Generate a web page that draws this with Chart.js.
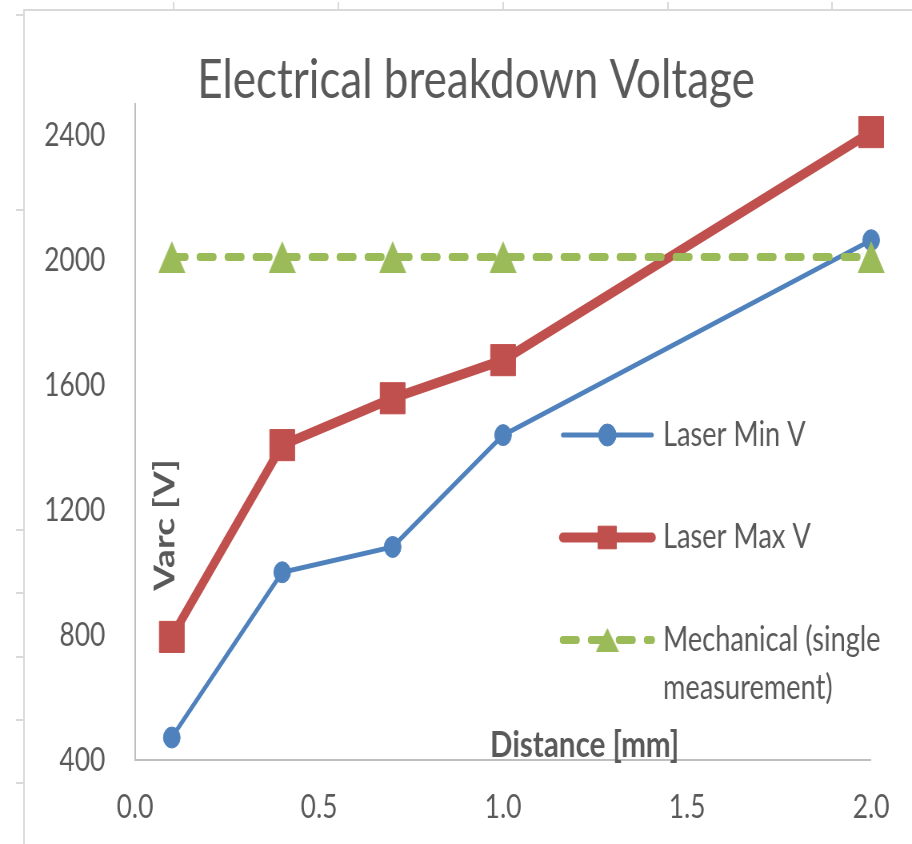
<!DOCTYPE html>
<html>
<head>
<meta charset="utf-8">
<script src="https://cdn.jsdelivr.net/npm/chart.js@4.4.1/dist/chart.umd.min.js"></script>
<style>
  html, body { margin: 0; padding: 0; background: #fff; overflow: hidden; }
  /* the reference picture is squeezed sideways, so draw wide and squeeze */
  #wrap { width: 1140px; height: 844px; transform: scaleX(0.8); transform-origin: 0 0; }
</style>
</head>
<body>
<div id="wrap"><canvas id="chart" width="1140" height="844"></canvas></div>
<script>
const distances = [0.1, 0.4, 0.7, 1.0, 2.0];
const laserMin = [472, 1001, 1082, 1440, 2064];
const laserMax = [794, 1408, 1558, 1680, 2410];
const mechanical = [2010, 2010, 2010, 2010, 2010];
const xTicks = [0.0, 0.5, 1.0, 1.5, 2.0];
const yTicks = [400, 800, 1200, 1600, 2000, 2400];
const seriesNames = ["Laser Min V", "Laser Max V", ["Mechanical (single", "measurement)"]];
const chartTitle = "Electrical breakdown Voltage";

const TEXT = "#595959";
const FONT = "Lato";
const GREEN = "#9BBB59";

function toPoints(ys) {
  return distances.map((x, i) => ({ x: x, y: ys[i] }));
}

// triangle marker centred on its box (the built-in one sits high)
function makeTriangle(w, h, color) {
  const c = document.createElement("canvas");
  c.width = w;
  c.height = h;
  const g = c.getContext("2d");
  g.fillStyle = color;
  g.beginPath();
  g.moveTo(w / 2, 0);
  g.lineTo(w, h);
  g.lineTo(0, h);
  g.closePath();
  g.fill();
  return c;
}
const triBig = makeTriangle(34, 32, GREEN);
const triSmall = makeTriangle(29, 24, GREEN);

// light frame + stray tick marks around the picture
const framePlugin = {
  id: "frame",
  beforeDraw(chart) {
    const ctx = chart.ctx;
    ctx.save();
    ctx.strokeStyle = "#d9d9d9";
    ctx.lineWidth = 2;
    ctx.beginPath();
    ctx.moveTo(30, 844);
    ctx.lineTo(30, 10);
    ctx.lineTo(1140, 10);
    for (const x of [217, 423, 629, 835, 1040]) {
      ctx.moveTo(x, 2);
      ctx.lineTo(x, 10);
    }
    for (const y of [15, 210, 530, 593, 657, 720, 783]) {
      ctx.moveTo(20, y);
      ctx.lineTo(30, y);
    }
    ctx.stroke();
    ctx.restore();
  },
};

// title is off-centre and axis titles sit inside the plot area in the original
const textPlugin = {
  id: "texts",
  afterDraw(chart) {
    const { ctx, chartArea } = chart;
    ctx.save();
    ctx.fillStyle = TEXT;
    ctx.textAlign = "center";
    ctx.textBaseline = "middle";
    ctx.font = `55px ${FONT}`;
    ctx.fillText(chartTitle, 595, 80);
    ctx.font = `bold 37px ${FONT}`;
    ctx.save();
    ctx.translate(chartArea.left + 37, chartArea.top + 421);
    ctx.rotate(-Math.PI / 2);
    ctx.fillText("Varc [V]", 0, 0);
    ctx.restore();
    ctx.textBaseline = "alphabetic";
    ctx.fillText("Distance [mm]", chartArea.left + 562, chartArea.bottom - 3);
    ctx.restore();
  },
};

// legend drawn inside the plot, line sample with marker
const insideLegend = {
  id: "insideLegend",
  afterDraw(chart) {
    const { ctx, chartArea } = chart;
    const x0 = chartArea.left + 535;
    const x1 = chartArea.left + 646;
    const xt = chartArea.left + 660;
    let y = chartArea.top + 331;
    chart.data.datasets.forEach((ds, i) => {
      ctx.save();
      ctx.strokeStyle = ds.borderColor;
      ctx.lineWidth = ds.borderWidth;
      ctx.lineCap = ds.borderCapStyle || "round";
      ctx.setLineDash(ds.borderDash || []);
      ctx.beginPath();
      ctx.moveTo(x0, y);
      ctx.lineTo(x1, y);
      ctx.stroke();
      ctx.setLineDash([]);
      ctx.fillStyle = ds.pointBackgroundColor;
      ctx.strokeStyle = ds.pointBorderColor;
      ctx.lineWidth = 1;
      Chart.helpers.drawPoint(ctx, {
        pointStyle: ds.legendStyle || ds.pointStyle,
        radius: ds.legendRadius,
        rotation: 0,
        borderWidth: 1,
      }, (x0 + x1) / 2, y);
      ctx.fillStyle = TEXT;
      ctx.font = `34px ${FONT}`;
      ctx.textAlign = "left";
      ctx.textBaseline = "middle";
      const lines = [].concat(seriesNames[i]);
      lines.forEach((t, k) => ctx.fillText(t, xt, y + k * 48));
      ctx.restore();
      y += 102.5;
    });
  },
};

new Chart(document.getElementById("chart"), {
  type: "line",
  data: {
    datasets: [
      {
        label: "Laser Min V",
        data: toPoints(laserMin),
        borderColor: "#4F81BD",
        borderWidth: 5,
        pointStyle: "circle",
        pointRadius: 10.5,
        pointBackgroundColor: "#4F81BD",
        pointBorderColor: "#4F81BD",
        pointBorderWidth: 1,
        legendRadius: 11,
        order: 3,
        clip: false,
      },
      {
        label: "Laser Max V",
        data: toPoints(laserMax),
        borderColor: "#C0504D",
        borderWidth: 10,
        borderJoinStyle: "round",
        pointStyle: "rect",
        pointRadius: 22,
        pointBackgroundColor: "#C0504D",
        pointBorderColor: "#C0504D",
        pointBorderWidth: 1,
        legendRadius: 16,
        order: 2,
        clip: false,
      },
      {
        label: "Mechanical (single measurement)",
        data: toPoints(mechanical),
        borderColor: GREEN,
        borderWidth: 8,
        borderDash: [17, 18],
        borderCapStyle: "round",
        pointStyle: triBig,
        legendStyle: triSmall,
        pointRadius: 20,
        pointBackgroundColor: GREEN,
        pointBorderColor: GREEN,
        pointBorderWidth: 1,
        legendRadius: 15,
        order: 1,
        clip: false,
      },
    ],
  },
  options: {
    responsive: false,
    devicePixelRatio: 1,
    animation: false,
    layout: { padding: { left: 0, right: 46.25, top: 104, bottom: 0 } },
    plugins: {
      legend: { display: false },
      tooltip: { enabled: false },
      title: { display: false },
    },
    scales: {
      x: {
        type: "linear",
        min: 0,
        max: 2,
        afterBuildTicks: (s) => { s.ticks = xTicks.map((v) => ({ value: v })); },
        afterFit: (s) => { s.height = 84; },
        ticks: {
          callback: (v) => v.toFixed(1),
          color: TEXT,
          font: { family: FONT, size: 33 },
          padding: 28,
          maxRotation: 0,
        },
        grid: { display: false, drawTicks: false },
        border: { display: true, color: "#bfbfbf", width: 2 },
      },
      y: {
        type: "linear",
        min: 400,
        max: 2500,
        afterBuildTicks: (s) => { s.ticks = yTicks.map((v) => ({ value: v })); },
        afterFit: (s) => { s.width = 168.75; },
        ticks: {
          callback: (v) => String(v),
          color: TEXT,
          font: { family: FONT, size: 33 },
          padding: 37,
        },
        grid: { display: false, drawTicks: false },
        border: { display: true, color: "#bfbfbf", width: 2 },
      },
    },
  },
  plugins: [framePlugin, textPlugin, insideLegend],
});
</script>
</body>
</html>
